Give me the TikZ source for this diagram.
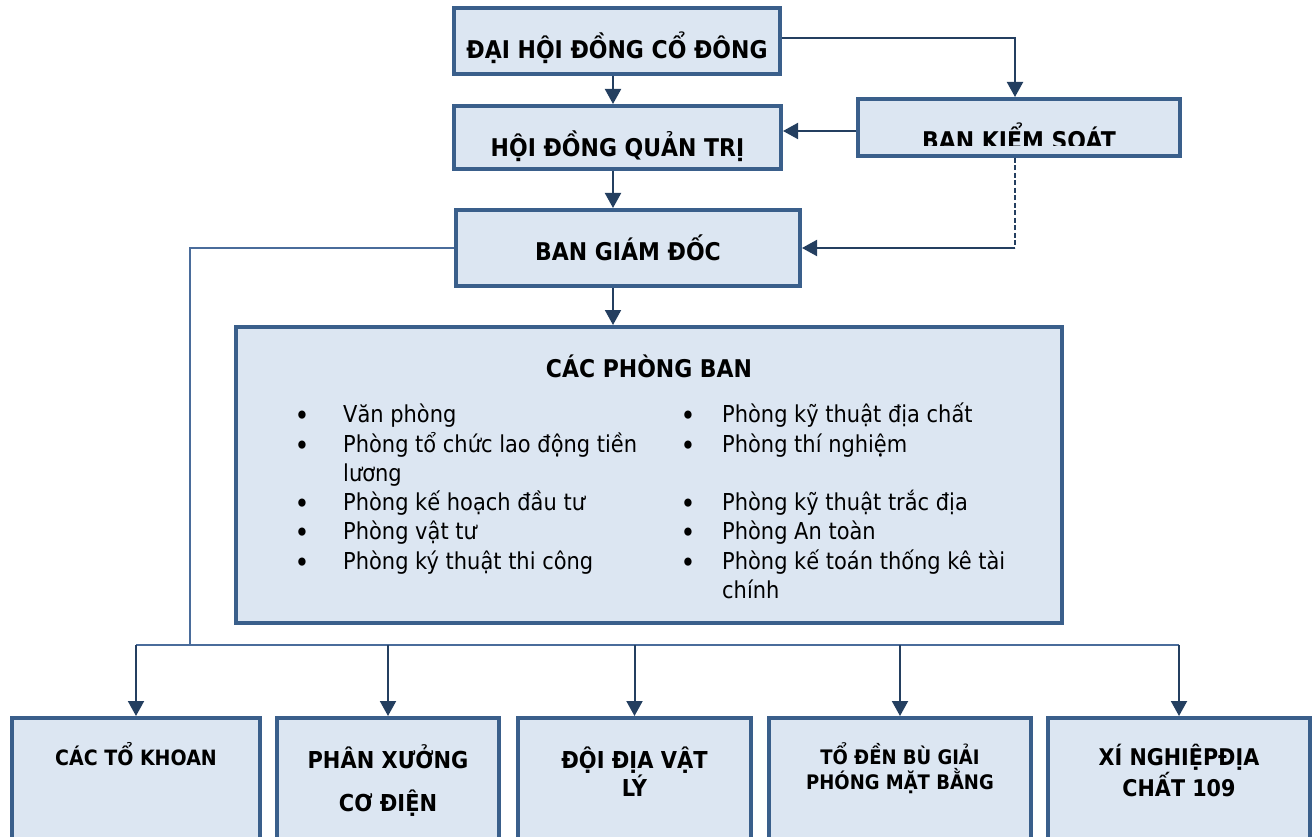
\documentclass[tikz,border=0pt]{standalone}
\usepackage{fontspec}
\setmainfont{DejaVu Sans}[FakeStretch=0.9]
\usetikzlibrary{arrows.meta}
\definecolor{boxfill}{HTML}{DCE6F2}
\definecolor{boxline}{HTML}{3A5F8B}
\definecolor{arrowcol}{HTML}{243F60}
\definecolor{buscol}{HTML}{4A6C9B}

\begin{document}
\begin{tikzpicture}[x=1pt, y=-1pt,
    box/.style={draw=boxline, fill=boxfill, line width=4pt, inner sep=0pt,
      font=\bfseries\fontsize{24.4}{28}\selectfont, text depth=0pt, text height=#1},
    box/.default=16pt,
    head/.style={inner sep=0pt, font=\bfseries\fontsize{24.4}{28}\selectfont, anchor=base},
    item/.style={inner sep=0pt, font=\fontsize{23.3}{27}\selectfont, anchor=base west},
    dot/.style={inner sep=0pt, font=\fontsize{28}{30}\selectfont, anchor=base, yshift=-3pt},
    unittext/.style={inner sep=0pt, align=center, anchor=base},
    arr/.style={draw=arrowcol, line width=2pt, -{Triangle[length=15pt,width=16pt]}},
    busline/.style={draw=buscol, line width=2pt}]
  \useasboundingbox (0,0) rectangle (1315,837);
  \clip (0,0) rectangle (1315,837);

  \node[box=36pt, minimum width=326pt, minimum height=66pt] (dhdcd) at (617,41) {ĐẠI HỘI ĐỒNG CỔ ĐÔNG};
  \node[box=39pt, minimum width=327pt, minimum height=63pt] (hdqt) at (617.5,137.5) {HỘI ĐỒNG QUẢN TRỊ};
  \node[box, minimum width=322pt, minimum height=57pt] (bks) at (1019,127.5) {};
  \begin{scope}
    \clip (bks.north west) rectangle ([yshift=12pt]bks.south east);
    \node[head] (bks-t) at ([yshift=-22.5pt]bks.center) {BAN KIỂM SOÁT};
  \end{scope}
  \node[box=26pt, minimum width=344pt, minimum height=76pt] (bgd) at (628,248) {BAN GIÁM ĐỐC};

  \node[box, minimum width=826pt, minimum height=296pt] (cpb) at (649,475) {};
  \node[head] (cpb-t) at ([yshift=-52pt]cpb.north) {CÁC PHÒNG BAN};
  \foreach \yy/\txt in {422/Văn phòng, 452/Phòng tổ chức lao động tiền, 510/Phòng kế hoạch đầu tư,
      539/Phòng vật tư, 569/Phòng ký thuật thi công} {
    \node[dot] (ldot-\yy) at (302,\yy) {•};
    \node[item] (left-\yy) at (343,\yy) {\txt};
  }
  \node[item] (left-481) at (343,481) {lương};
  \foreach \yy/\txt in {422/Phòng kỹ thuật địa chất, 452/Phòng thí nghiệm, 510/Phòng kỹ thuật trắc địa,
      539/Phòng An toàn, 569/Phòng kế toán thống kê tài} {
    \node[dot] (rdot-\yy) at (688,\yy) {•};
    \node[item] (right-\yy) at (722,\yy) {\txt};
  }
  \node[item] (right-598) at (722,598) {chính};

  \node[box, minimum width=248pt, minimum height=150pt, anchor=north] (khoan) at (136,716) {};
  \node[box, minimum width=222pt, minimum height=150pt, anchor=north] (xuong) at (388,716) {};
  \node[box, minimum width=233pt, minimum height=150pt, anchor=north] (doi) at (634.5,716) {};
  \node[box, minimum width=262pt, minimum height=150pt, anchor=north] (denbu) at (900,716) {};
  \node[box, minimum width=262pt, minimum height=150pt, anchor=north] (xn) at (1179,716) {};
  \node[unittext, font=\bfseries\fontsize{21.1}{24}\selectfont] (khoan-t) at ([yshift=-49pt]khoan.north) {CÁC TỔ KHOAN};
  \node[unittext, font=\bfseries\fontsize{23.3}{43}\selectfont] (xuong-t) at ([yshift=-95pt]xuong.north) {PHÂN XƯỞNG\\CƠ ĐIỆN};
  \node[unittext, font=\bfseries\fontsize{23.3}{28}\selectfont] (doi-t) at ([yshift=-80pt]doi.north) {ĐỘI ĐỊA VẬT\\LÝ};
  \node[unittext, font=\bfseries\fontsize{20}{25}\selectfont] (denbu-t) at ([yshift=-73pt]denbu.north) {TỔ ĐỀN BÙ GIẢI\\PHÓNG MẶT BẰNG};
  \node[unittext, font=\bfseries\fontsize{23}{28}\selectfont] (xn-t) at ([yshift=-80pt]xn.north) {XÍ NGHIỆPĐỊA\\CHẤT 109};

  \coordinate (spine) at (613,0);
  \coordinate (side) at (1015,0);
  \coordinate (bus) at (190,645);
  \draw[arr] (spine |- dhdcd.south) -- (spine |- hdqt.north);
  \draw[arr] (spine |- hdqt.south) -- (spine |- bgd.north);
  \draw[arr] (spine |- bgd.south) -- (spine |- cpb.north);
  \draw[arr] (dhdcd.east |- 0,38) -| (side |- bks.north);
  \draw[arr] (bks.west |- 0,131) -- (hdqt.east |- 0,131);
  \draw[draw=arrowcol, line width=2pt, dash pattern=on 5pt off 2.5pt] (side |- bks.south) -- (side |- bgd.east);
  \draw[arr] (side |- bgd.east) -- (bgd.east);
  \draw[busline] (bgd.west) -| (bus);
  \draw[busline] (bus -| khoan.north) -- (bus -| xn.north);
  \foreach \u in {khoan,xuong,doi,denbu,xn}
    \draw[arr] (bus -| \u.north) -- (\u.north);
\end{tikzpicture}
\end{document}
